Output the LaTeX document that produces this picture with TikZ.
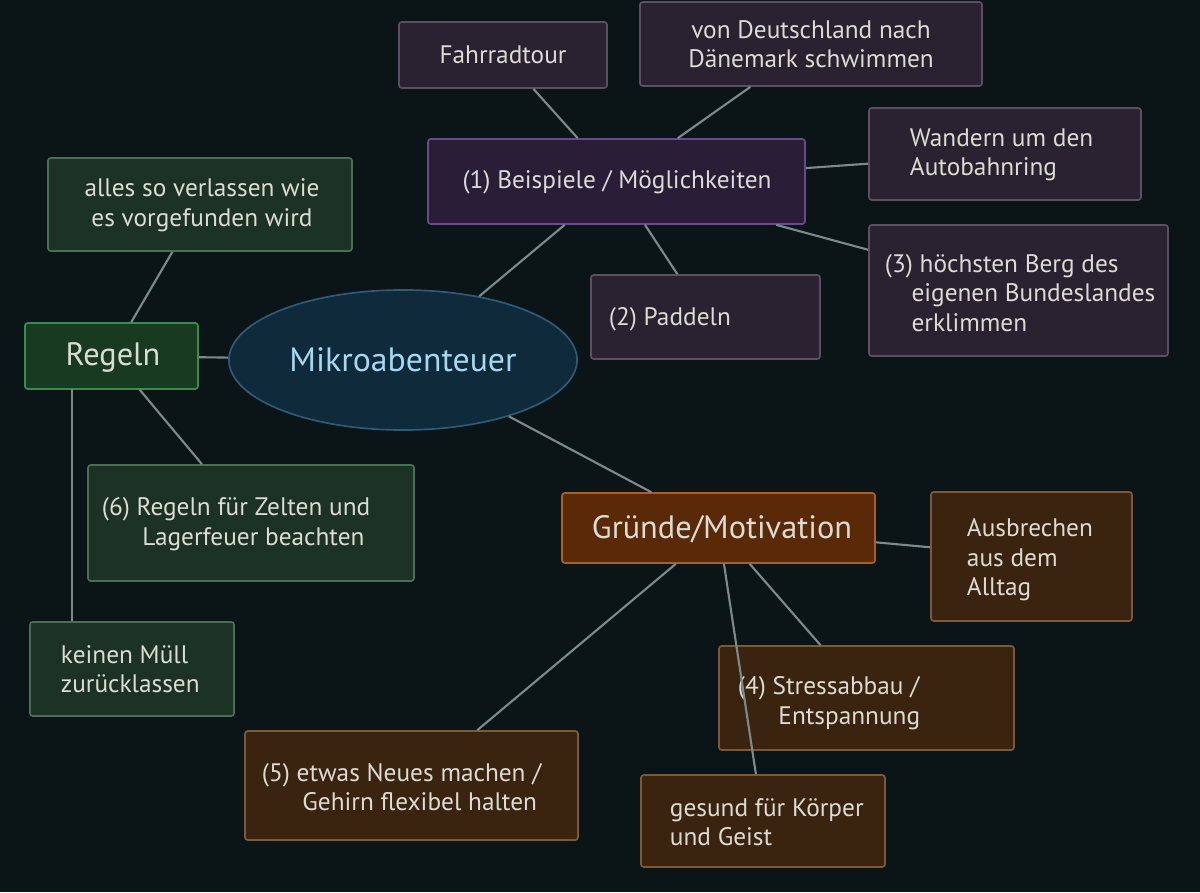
\documentclass[tikz,border=0pt]{standalone}
\usepackage{fontspec}
\setmainfont{PT Sans}
\usetikzlibrary{shapes.geometric}
\definecolor{bg}{HTML}{0B1518}
\definecolor{txt}{HTML}{DCDCD4}
\definecolor{ln}{HTML}{7C8A8C}
\definecolor{pf}{HTML}{291D38}\definecolor{pb}{HTML}{6A4A88}
\definecolor{gf}{HTML}{1C3224}\definecolor{gb}{HTML}{4C6E56}
\definecolor{rf}{HTML}{173A20}\definecolor{rb}{HTML}{3E8A4E}
\definecolor{of}{HTML}{3A2410}\definecolor{ob}{HTML}{7A5A3A}
\definecolor{gof}{HTML}{5A2A08}\definecolor{gob}{HTML}{A8602A}
\definecolor{mf}{HTML}{2A2230}\definecolor{mb}{HTML}{5A5060}
\definecolor{ef}{HTML}{0F2A3A}\definecolor{eb}{HTML}{2F5A78}\definecolor{et}{HTML}{A8D8F0}
\begin{document}
\begin{tikzpicture}[x=0.025cm,y=-0.025cm,
 box/.style={draw, line width=1.2pt, rounded corners=2pt, inner sep=0pt},
 pur/.style={box, fill=mf, draw=mb},
 grn/.style={box, fill=gf, draw=gb},
 org/.style={box, fill=of, draw=ob},
 ln/.style={draw=ln, line width=1.5pt}]
\fill[bg] (0,0) rectangle (1200,892);
\useasboundingbox (0,0) rectangle (1200,892);
\newcommand\bx[7]{\node[#1, minimum width={(#4-#2)*0.025cm}, minimum height={(#5-#3)*0.025cm}, #7] (#6) at ({(#2+#4)/2},{(#3+#5)/2}) {};}
% nodes
\bx{pur}{399}{22}{607}{88}{fa}{}
\bx{pur}{640}{2}{982}{86}{de}{}
\bx{box}{428}{139}{805}{224}{be}{fill=pf,draw=pb}
\bx{pur}{869}{108}{1141}{200}{wa}{}
\bx{pur}{869}{225}{1168}{356}{ho}{}
\bx{pur}{591}{275}{820}{359}{pa}{}
\bx{grn}{48}{158}{352}{251}{al}{}
\bx{box}{25}{323}{198}{389}{re}{fill=rf,draw=rb}
\bx{grn}{88}{465}{414}{581}{ze}{}
\bx{grn}{30}{622}{234}{716}{mu}{}
\bx{box}{562}{493}{875}{563}{gr}{fill=gof,draw=gob}
\bx{org}{931}{492}{1132}{621}{au}{}
\bx{org}{719}{646}{1014}{750}{st}{}
\bx{org}{245}{731}{578}{840}{ne}{}
\bx{org}{641}{775}{885}{867}{ge}{}
\node[ellipse, draw=eb, fill=ef, line width=1.2pt, minimum width=8.7cm, minimum height=3.5cm] (mi) at (403,360) {};
% texts
\tikzset{t/.style={text=txt, font=\fontsize{18}{21}\selectfont, align=left}}
\node[t] at (503,55) {Fahrradtour};
\node[t, align=center] at (811,44) {von Deutschland nach\\Dänemark schwimmen};
\node[t] at (617,182) {(1) Beispiele / Möglichkeiten};
\node[t, anchor=west] at (905,155) {Wandern um den\\Autobahnring};
\node[t, anchor=west] at (880,293) {(3) höchsten Berg des\\\hspace*{1.05em}eigenen Bundeslandes\\\hspace*{1.05em}erklimmen};
\node[t, anchor=west] at (604,319) {(2) Paddeln};
\node[t, align=center] at (202,205) {alles so verlassen wie\\es vorgefunden wird};
\node[text=txt, font=\fontsize{23}{26}\selectfont] at (113,357) {Regeln};
\node[text=et, font=\fontsize{24}{28}\selectfont] at (403,360) {Mikroabenteuer};
\node[t, anchor=west] at (97,524) {(6) Regeln für Zelten und\\\hspace*{1.6em}Lagerfeuer beachten};
\node[t, anchor=west] at (56,669) {keinen Müll\\zurücklassen};
\node[text=txt, font=\fontsize{23}{26}\selectfont] at (722,529) {Gründe/Motivation};
\node[t, anchor=west] at (962,560) {Ausbrechen\\aus dem\\Alltag};
\node[t, anchor=west] at (733,703) {(4) Stressabbau /\\\hspace*{1.6em}Entspannung};
\node[t, anchor=west] at (257,787) {(5) etwas Neues machen /\\\hspace*{1.6em}Gehirn flexibel halten};
\node[t, anchor=west] at (665,822) {gesund für Körper\\und Geist};
% connectors
\draw[ln] (fa) -- (be); \draw[ln] (de) -- (be);
\draw[ln] (be) -- (wa); \draw[ln] (be) -- (ho);
\draw[ln] (be) -- (pa); \draw[ln] (mi) -- (be);
\draw[ln] (re) -- (al); \draw[ln] (re) -- (mi); \draw[ln] (re) -- (ze);
\coordinate (rs) at (72,389);
\draw[ln] (rs) -- (mu.north west -| rs);
\draw[ln] (mi) -- (gr);
\draw[ln] (gr) -- (au); \draw[ln] (gr) -- (st); \draw[ln] (gr) -- (ne); \draw[ln] (gr) -- (ge);
\end{tikzpicture}
\end{document}
